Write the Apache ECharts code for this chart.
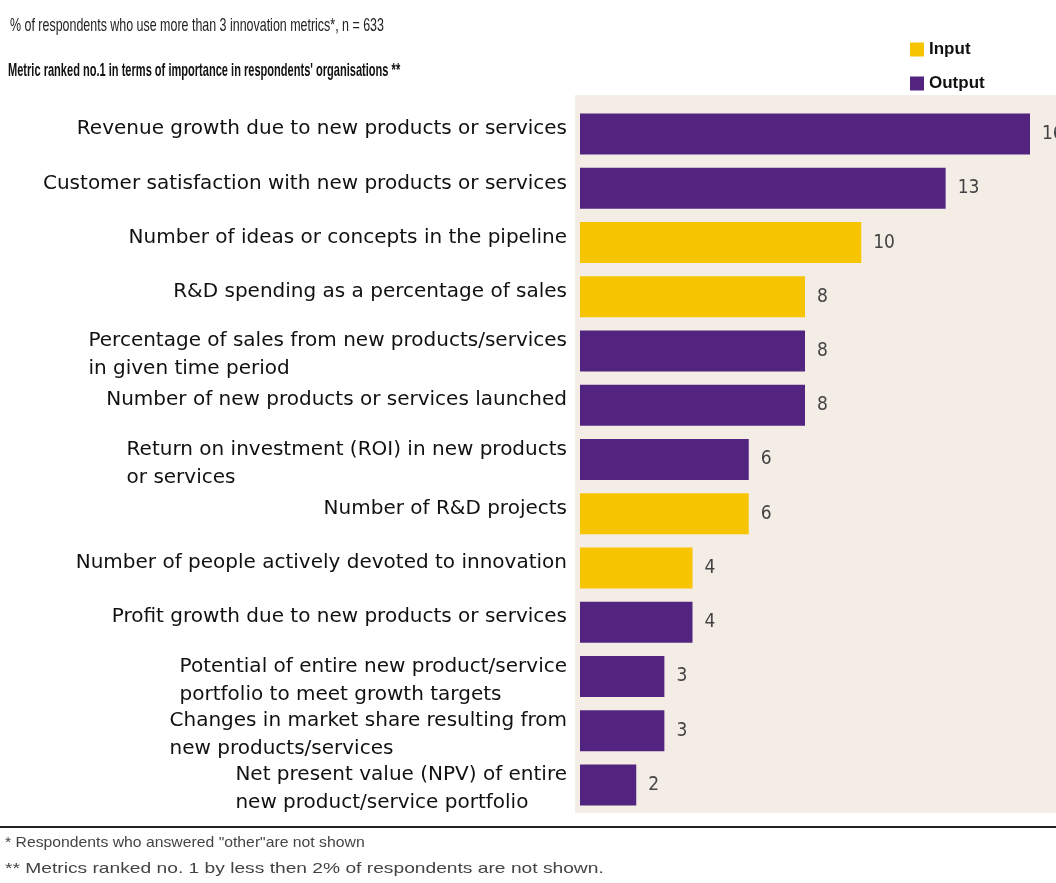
<!DOCTYPE html>
<html>
<head>
<meta charset="utf-8">
<script src="https://cdn.jsdelivr.net/npm/echarts@6/dist/echarts.min.js"></script>
<style>
html,body{margin:0;padding:0;background:#fff;}
#chart{width:1056px;height:883px;}
</style>
</head>
<body>
<div id="chart"></div>
<script>
const categories = [
  "Revenue growth due to new products or services",
  "Customer satisfaction with new products or services",
  "Number of ideas or concepts in the pipeline",
  "R&D spending as a percentage of sales",
  "Percentage of sales from new products/services\nin given time period",
  "Number of new products or services launched",
  "Return on investment (ROI) in new products\nor services",
  "Number of R&D projects",
  "Number of people actively devoted to innovation",
  "Profit growth due to new products or services",
  "Potential of entire new product/service\nportfolio to meet growth targets",
  "Changes in market share resulting from\nnew products/services",
  "Net present value (NPV) of entire\nnew product/service portfolio"
];
const inputValues  = [null, null, 10, 8, null, null, null, 6, 4, null, null, null, null];
const outputValues = [16, 13, null, null, 8, 8, 6, null, null, 4, 3, 3, 2];
const seriesNames = ["Input", "Output"];
const titleText = "% of respondents who use more than 3 innovation metrics*, n = 633";
const subtitleText = "Metric ranked no.1 in terms of importance in respondents' organisations **";
const footnote1 = "* Respondents who answered \"other\"are not shown";
const footnote2 = "** Metrics ranked no. 1 by less then 2% of respondents are not shown.";

const chart = echarts.init(document.getElementById('chart'), null, {renderer: 'canvas'});
const labelFont = 'DejaVu Sans';
const valueLabel = {
  show: true,
  position: 'right',
  distance: 12,
  fontFamily: '"Liberation Sans Narrow", "DejaVu Sans Condensed", "Liberation Sans"',
  fontSize: 19,
  color: '#444'
};
const option = {
  animation: false,
  backgroundColor: '#ffffff',
  legend: {
    data: seriesNames,
    orient: 'vertical',
    left: 905,
    top: 36,
    itemWidth: 14,
    itemHeight: 14,
    itemGap: 17,
    icon: 'rect',
    textStyle: {fontFamily: 'Liberation Sans', fontWeight: 'bold', fontSize: 17, color: '#111'}
  },
  grid: {left: 580, right: 26, top: 107, height: 705},
  xAxis: {type: 'value', min: 0, max: 16, show: false, splitLine: {show: false}},
  yAxis: {
    type: 'category',
    inverse: true,
    data: categories,
    axisLine: {show: false},
    axisTick: {show: false},
    splitLine: {show: false},
    axisLabel: {
      interval: 0,
      showMinLabel: true,
      showMaxLabel: true,
      hideOverlap: false,
      margin: 13,
      fontFamily: labelFont,
      fontSize: 20,
      color: '#111',
      lineHeight: 28,
      formatter: function (v) {
        const lines = v.split('\n');
        const key = lines.length > 1 ? 't' : 's';
        return lines.map(function (s) { return '{' + key + '|' + s + '}'; }).join('\n');
      },
      rich: {
        s: {align: 'left', fontFamily: labelFont, fontSize: 20, lineHeight: 28, color: '#111', padding: [0, 0, 10, 0]},
        t: {align: 'left', fontFamily: labelFont, fontSize: 20, lineHeight: 28, color: '#111', padding: [8, 0, 0, 0]}
      }
    }
  },
  graphic: [
    {type: 'rect', z: -10, silent: true, shape: {x: 575, y: 95, width: 481, height: 718}, style: {fill: '#F4EDE6'}},
    {type: 'line', z: 10, silent: true, shape: {x1: 0, y1: 827, x2: 1056, y2: 827}, style: {stroke: '#222', lineWidth: 2}},
    {type: 'text', x: 10, y: 26, scaleX: 0.655, silent: true,
      style: {text: titleText, font: '19px "Liberation Sans"', fill: '#222', align: 'left', verticalAlign: 'middle'}},
    {type: 'text', x: 8, y: 71, scaleX: 0.582, silent: true,
      style: {text: subtitleText, font: 'bold 19px "Liberation Sans"', fill: '#111', align: 'left', verticalAlign: 'middle'}},
    {type: 'text', x: 5, y: 843, scaleX: 1.05, silent: true,
      style: {text: footnote1, font: '15px "Liberation Sans"', fill: '#444', align: 'left', verticalAlign: 'middle'}},
    {type: 'text', x: 5, y: 869, scaleX: 1.28, silent: true,
      style: {text: footnote2, font: '15px "Liberation Sans"', fill: '#444', align: 'left', verticalAlign: 'middle'}}
  ],
  series: [
    {name: seriesNames[0], type: 'bar', stack: 'm', data: inputValues, barWidth: 41,
      itemStyle: {color: '#F6C400'}, label: valueLabel},
    {name: seriesNames[1], type: 'bar', stack: 'm', data: outputValues, barWidth: 41,
      itemStyle: {color: '#53247F'}, label: valueLabel}
  ]
};
chart.setOption(option);
</script>
</body>
</html>
